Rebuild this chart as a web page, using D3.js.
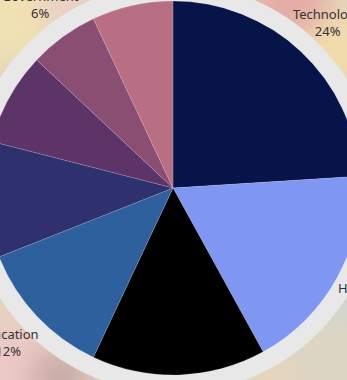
<!DOCTYPE html>
<html>
<meta charset="utf-8">
<title>Sector share</title>
<style>
  body { margin: 0; overflow: hidden; }
  .lbl { font-family: "Noto Sans", sans-serif; font-size: 13px; fill: #333; }
</style>
<body>
<div id="chart"></div>
<script src="https://d3js.org/d3.v7.min.js"></script>
<script>
// slices, clockwise from 12 o'clock
var sectors = ["Technology", "Healthcare", "Finance", "Education", "Manufacturing", "Retail", "Government", "Other"];
var shares  = [24, 18, 15, 12, 10, 8, 6, 7];
var colors  = ["#061449", "#7f96f2", "#000000", "#2d609d", "#2e316d", "#5c3467", "#8a4e72", "#b86f84"];

var width = 347, height = 380;
var cx = 173, cy = 188, radius = 187;

var svg = d3.select("#chart").append("svg")
    .attr("width", width)
    .attr("height", height);

// blurry photo-ish backdrop
var defs = svg.append("defs");
defs.append("filter").attr("id", "blur")
    .attr("x", "-50%").attr("y", "-50%").attr("width", "200%").attr("height", "200%")
  .append("feGaussianBlur").attr("stdDeviation", 14);

svg.append("rect").attr("width", width).attr("height", height).attr("fill", "#e4d5bd");
var blobs = [
  {x: 10, y: 20, r: 45, c: "#f0e1b2"},
  {x: 70, y: 10, r: 30, c: "#ead0c4"},
  {x: 290, y: 0, r: 40, c: "#e3aca6"},
  {x: 340, y: 50, r: 35, c: "#f2dcac"},
  {x: 10, y: 360, r: 40, c: "#ecc9c6"},
  {x: 60, y: 378, r: 30, c: "#c9aaa8"},
  {x: 330, y: 360, r: 40, c: "#dcd6c4"},
  {x: 345, y: 300, r: 25, c: "#cfd6cf"}
];
svg.append("g").attr("filter", "url(#blur)")
  .selectAll("circle").data(blobs).enter().append("circle")
    .attr("cx", function(d) { return d.x; })
    .attr("cy", function(d) { return d.y; })
    .attr("r", function(d) { return d.r; })
    .attr("fill", function(d) { return d.c; });

var g = svg.append("g").attr("transform", "translate(" + cx + "," + cy + ")");

// grey ring behind the pie
g.append("circle").attr("r", radius + 18).attr("fill", "#e8e8e8");

var pie = d3.pie().sort(null).value(function(d) { return d; });
var arc = d3.arc().innerRadius(0).outerRadius(radius);
var arcs = pie(shares);

g.selectAll("path.slice").data(arcs).enter().append("path")
    .attr("class", "slice")
    .attr("d", arc)
    .attr("fill", function(d, i) { return colors[i]; })
    .attr("stroke", "rgba(255,255,255,0.25)")
    .attr("stroke-width", 0.6);

// labels outside the ring
var labelArc = d3.arc().innerRadius(226).outerRadius(226);
var labels = g.selectAll("g.lab").data(arcs).enter().append("g")
    .attr("class", "lab")
    .attr("transform", function(d) { return "translate(" + labelArc.centroid(d) + ")"; });

labels.append("text").attr("class", "lbl")
    .attr("text-anchor", "middle")
    .attr("y", -4)
    .text(function(d, i) { return sectors[i]; });
labels.append("text").attr("class", "lbl")
    .attr("text-anchor", "middle")
    .attr("y", 13)
    .text(function(d) { return d.data + "%"; });
</script>
</body>
</html>
